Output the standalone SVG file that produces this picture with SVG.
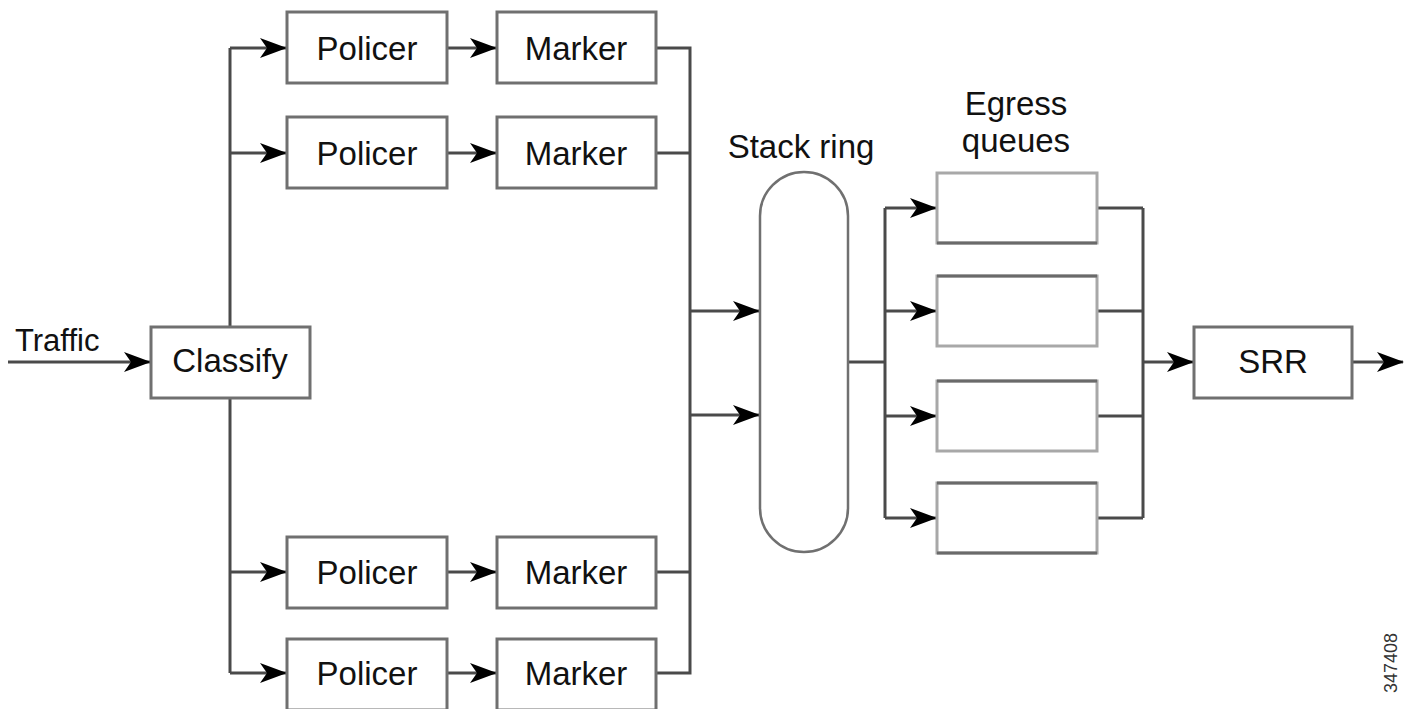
<svg xmlns="http://www.w3.org/2000/svg" width="1405" height="709" viewBox="0 0 1405 709">
<style>
.box{fill:#fff;stroke:#707070;stroke-width:3}
.eq{fill:#fff;stroke:#a8a8a8;stroke-width:3}
.eqb{fill:none;stroke:#6a6a6a;stroke-width:3}
.ln{fill:none;stroke:#4a4a4a;stroke-width:3}
.la{fill:none;stroke:#4a4a4a;stroke-width:3;marker-end:url(#ah)}
.t{font-family:"Liberation Sans",Arial,sans-serif;font-size:33px;fill:#111;text-anchor:middle}
.lbl{font-family:"Liberation Sans",Arial,sans-serif;font-size:33px;fill:#111}
</style>
<defs>
<marker id="ah" markerUnits="userSpaceOnUse" viewBox="-27 -11 28 22" refX="0" refY="0" markerWidth="28" markerHeight="22" orient="auto">
<path d="M1,0 L-26,-10 L-19,0 L-26,10 Z" fill="#000"/>
</marker>
</defs>
<g id="connectors">
<line class="la" x1="8" y1="362" x2="150" y2="362"/>
<polyline class="ln" points="230,327 230,48"/>
<polyline class="ln" points="230,398 230,673"/>
<line class="la" x1="230" y1="48" x2="286" y2="48"/>
<line class="la" x1="230" y1="153" x2="286" y2="153"/>
<line class="la" x1="230" y1="572" x2="286" y2="572"/>
<line class="la" x1="230" y1="673" x2="286" y2="673"/>
<line class="la" x1="447" y1="48" x2="496" y2="48"/>
<line class="la" x1="447" y1="153" x2="496" y2="153"/>
<line class="la" x1="447" y1="572" x2="496" y2="572"/>
<line class="la" x1="447" y1="673" x2="496" y2="673"/>
<polyline class="ln" points="656,48 690,48 690,673 656,673"/>
<line class="ln" x1="656" y1="153" x2="690" y2="153"/>
<line class="ln" x1="656" y1="572" x2="690" y2="572"/>
<line class="la" x1="690" y1="311" x2="759" y2="311"/>
<line class="la" x1="690" y1="415" x2="759" y2="415"/>
<line class="ln" x1="848" y1="362" x2="885" y2="362"/>
<line class="ln" x1="885" y1="208" x2="885" y2="518"/>
<line class="la" x1="885" y1="208" x2="936" y2="208"/>
<line class="la" x1="885" y1="311" x2="936" y2="311"/>
<line class="la" x1="885" y1="416" x2="936" y2="416"/>
<line class="la" x1="885" y1="518" x2="936" y2="518"/>
<line class="ln" x1="1097" y1="208" x2="1143" y2="208"/>
<line class="ln" x1="1097" y1="311" x2="1143" y2="311"/>
<line class="ln" x1="1097" y1="416" x2="1143" y2="416"/>
<line class="ln" x1="1097" y1="518" x2="1143" y2="518"/>
<line class="ln" x1="1143" y1="208" x2="1143" y2="518"/>
<line class="la" x1="1143" y1="362" x2="1193" y2="362"/>
<line class="la" x1="1352" y1="362" x2="1403" y2="362"/>
</g>
<g id="traffic-label"><text class="lbl" x="15" y="351" style="font-size:31px">Traffic</text></g>
<g id="classify"><rect class="box" x="151" y="327" width="159" height="71"/><text class="t" x="230" y="372">Classify</text></g>
<g id="policer1"><rect class="box" x="287" y="12" width="160" height="71"/><text class="t" x="367" y="60">Policer</text></g>
<g id="policer2"><rect class="box" x="287" y="117" width="160" height="71"/><text class="t" x="367" y="165">Policer</text></g>
<g id="policer3"><rect class="box" x="287" y="537" width="160" height="71"/><text class="t" x="367" y="584">Policer</text></g>
<g id="policer4"><rect class="box" x="287" y="639" width="160" height="71"/><text class="t" x="367" y="685">Policer</text></g>
<g id="marker1"><rect class="box" x="497" y="12" width="159" height="71"/><text class="t" x="576" y="60">Marker</text></g>
<g id="marker2"><rect class="box" x="497" y="117" width="159" height="71"/><text class="t" x="576" y="165">Marker</text></g>
<g id="marker3"><rect class="box" x="497" y="537" width="159" height="71"/><text class="t" x="576" y="584">Marker</text></g>
<g id="marker4"><rect class="box" x="497" y="639" width="159" height="71"/><text class="t" x="576" y="685">Marker</text></g>
<g id="stack-ring"><rect class="box" x="760" y="172" width="88" height="380" rx="44" ry="44" style="stroke-width:2.5"/><text class="t" x="801" y="158">Stack ring</text></g>
<g id="egress-label"><text class="t" x="1016" y="115">Egress</text><text class="t" x="1016" y="152">queues</text></g>
<g id="queue1"><rect class="eq" x="937" y="173" width="160" height="70"/><line class="eqb" x1="937" y1="243" x2="1097" y2="243"/></g>
<g id="queue2"><rect class="eq" x="937" y="276" width="160" height="70"/><line class="eqb" x1="937" y1="276" x2="1097" y2="276"/></g>
<g id="queue3"><rect class="eq" x="937" y="381" width="160" height="70"/><line class="eqb" x1="937" y1="381" x2="1097" y2="381"/></g>
<g id="queue4"><rect class="eq" x="937" y="483" width="160" height="70"/><line class="eqb" x1="937" y1="483" x2="1097" y2="483"/><line class="eqb" x1="937" y1="553" x2="1097" y2="553"/></g>
<g id="srr"><rect class="box" x="1194" y="327" width="158" height="71"/><text class="t" x="1273" y="373">SRR</text></g>
<g id="figure-id"><text x="1397" y="633" transform="rotate(-90 1397 633)" style="font-family:'Liberation Sans',Arial,sans-serif;font-size:18px;fill:#333;text-anchor:end">347408</text></g>
</svg>
